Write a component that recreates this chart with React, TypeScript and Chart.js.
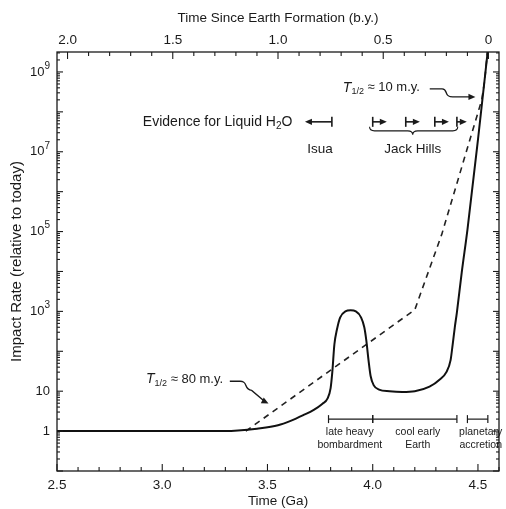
import React, { useEffect, useRef } from 'react';
import { Chart, registerables } from 'chart.js';

Chart.register(...registerables);

// ---- data ----
const solidT = [2.5, 3.3, 3.36, 3.45, 3.55, 3.61, 3.67, 3.72, 3.76, 3.785, 3.8, 3.808, 3.818, 3.83, 3.845, 3.87, 3.895, 3.92, 3.945, 3.96, 3.97, 3.98, 3.99, 4.005, 4.03, 4.08, 4.14, 4.2, 4.27, 4.32, 4.35, 4.37, 4.38, 4.39, 4.4, 4.423, 4.45, 4.5, 4.547];
const solidV = [1, 1, 1.03, 1.15, 1.4, 1.8, 2.5, 3.4, 4.8, 6.5, 12, 30, 150, 350, 700, 1000, 1060, 1000, 700, 400, 180, 60, 24, 14, 11, 10, 9.6, 10, 13, 20, 30, 60, 150, 400, 950, 9500, 1.1e5, 2e7, 3.5e9];

const dashT = [3.397, 4.2, 4.328, 4.518, 4.532, 4.545];
const dashV = [1, 1100, 8.5e4, 2e8, 6e8, 3.2e9];

const bottomTicks = [2.5, 3.0, 3.5, 4.0, 4.5];
const topTicks = [0, 0.5, 1.0, 1.5, 2.0];
const yTicks = [1, 10, 1e3, 1e5, 1e7, 1e9];
const yTickBase = ['1', '10', '10', '10', '10', '10'];
const yTickExp = ['', '', '3', '5', '7', '9'];

const EARTH_AGE = 4.55;

const isuaBar = 3.806;
const isuaTip = 3.678;
const jackHillsBars = [4.0, 4.157, 4.295, 4.4];
const jackHillsTips = [4.067, 4.224, 4.362, 4.447];

const periodNames = [['late heavy', 'bombardment'], ['cool early', 'Earth'], ['planetary', 'accretion']];
const periodStart = [3.79, 4.0, 4.45];
const periodEnd = [4.0, 4.4, 4.547];
const periodLabelT = [3.891, 4.214, 4.513];

const FONT = '"Liberation Sans", Arial, Helvetica, sans-serif';
const INK = '#1a1a1a';

const overlay = {
  id: 'overlay',
  afterDatasetsDraw(chart: any) {
    const { ctx, chartArea: a, scales } = chart;
    const x = scales.x, x2 = scales.x2, y = scales.y;
    const X = (t: number) => x.getPixelForValue(t);
    const Y = (lv: number) => y.getPixelForValue(Math.pow(10, lv));
    ctx.save();
    ctx.strokeStyle = INK;
    ctx.fillStyle = INK;
    ctx.lineWidth = 1.3;
    // frame
    ctx.strokeRect(a.left, a.top, a.right - a.left, a.bottom - a.top);
    const seg = (x1: number, y1: number, x2_: number, y2: number) => {
      ctx.beginPath(); ctx.moveTo(x1, y1); ctx.lineTo(x2_, y2); ctx.stroke();
    };
    // bottom ticks
    ctx.lineWidth = 1.1;
    for (let i = 0; i <= 21; i++) {
      const t = 2.5 + i * 0.1;
      const p = X(t);
      const L = i % 5 === 0 ? 7 : 4;
      seg(p, a.bottom, p, a.bottom - L);
    }
    // top ticks
    for (let i = 0; i <= 20; i++) {
      const s = i * 0.1;
      const p = x2.getPixelForValue(s);
      const L = i % 5 === 0 ? 7 : 4;
      seg(p, a.top, p, a.top + L);
    }
    // y ticks left and right
    for (let e = -1; e <= 9; e++) {
      for (let m = 1; m <= 9; m++) {
        const v = m * Math.pow(10, e);
        if (v > y.max || v < y.min) continue;
        const p = y.getPixelForValue(v);
        const L = m === 1 ? 6 : 3;
        seg(a.left, p, a.left + L, p);
        seg(a.right, p, a.right - L, p);
      }
    }
    // y tick labels with real superscripts
    ctx.textBaseline = 'middle';
    ctx.textAlign = 'right';
    yTicks.forEach((v, i) => {
      const p = y.getPixelForValue(v);
      let rx = a.left - 7;
      if (yTickExp[i]) {
        ctx.font = `10px ${FONT}`;
        ctx.fillText(yTickExp[i], rx, p - 6);
        rx -= ctx.measureText(yTickExp[i]).width;
      }
      ctx.font = `13px ${FONT}`;
      ctx.fillText(yTickBase[i], rx, p);
    });

    const arrowHead = (tx: number, ty: number, dx: number, dy: number) => {
      const len = Math.hypot(dx, dy);
      const ux = dx / len, uy = dy / len;
      const hl = 7, hw = 3.2;
      ctx.beginPath();
      ctx.moveTo(tx, ty);
      ctx.lineTo(tx - ux * hl - uy * hw, ty - uy * hl + ux * hw);
      ctx.lineTo(tx - ux * hl + uy * hw, ty - uy * hl - ux * hw);
      ctx.closePath();
      ctx.fill();
    };

    // Evidence text and arrows
    const evY = Y(7.75);
    ctx.textBaseline = 'middle';
    ctx.textAlign = 'left';
    ctx.font = `14px ${FONT}`;
    let cx = X(2.908);
    const t1 = 'Evidence for Liquid H';
    ctx.fillText(t1, cx, evY);
    cx += ctx.measureText(t1).width;
    ctx.font = `10px ${FONT}`;
    ctx.fillText('2', cx, evY + 4);
    cx += ctx.measureText('2').width;
    ctx.font = `14px ${FONT}`;
    ctx.fillText('O', cx, evY);

    ctx.lineWidth = 1.6;
    // Isua
    seg(X(isuaBar), evY - 5, X(isuaBar), evY + 5);
    seg(X(isuaBar), evY, X(isuaTip) + 5, evY);
    arrowHead(X(isuaTip), evY, -1, 0);
    // Jack Hills
    jackHillsBars.forEach((b, i) => {
      seg(X(b), evY - 5, X(b), evY + 5);
      seg(X(b), evY, X(jackHillsTips[i]) - 5, evY);
      arrowHead(X(jackHillsTips[i]), evY, 1, 0);
    });
    // brace
    ctx.lineWidth = 1.1;
    const bL = X(3.985), bR = X(4.404), bM = X(4.19), bT = evY + 5;
    ctx.beginPath();
    ctx.moveTo(bL, bT);
    ctx.quadraticCurveTo(bL, bT + 4, bL + 5, bT + 4);
    ctx.lineTo(bM - 5, bT + 4);
    ctx.quadraticCurveTo(bM, bT + 4, bM, bT + 8);
    ctx.quadraticCurveTo(bM, bT + 4, bM + 5, bT + 4);
    ctx.lineTo(bR - 5, bT + 4);
    ctx.quadraticCurveTo(bR, bT + 4, bR, bT);
    ctx.stroke();

    ctx.font = `13.5px ${FONT}`;
    ctx.textAlign = 'center';
    ctx.fillText('Isua', X(3.749), Y(7.05));
    ctx.fillText('Jack Hills', X(4.19), Y(7.05));

    // half-life labels
    const halfLife = (t: number, lv: number, rest: string) => {
      let px = X(t);
      const py = Y(lv);
      ctx.textAlign = 'left';
      ctx.font = `italic 14px ${FONT}`;
      ctx.fillText('T', px, py);
      px += ctx.measureText('T').width;
      ctx.font = `9px ${FONT}`;
      ctx.fillText('1/2', px, py + 4);
      px += ctx.measureText('1/2').width;
      ctx.font = `13px ${FONT}`;
      ctx.fillText(rest, px, py);
    };
    halfLife(3.858, 8.6, ' \u2248 10 m.y.');
    halfLife(2.923, 1.3, ' \u2248 80 m.y.');

    ctx.lineWidth = 1.4;
    // 10 m.y. arrow
    ctx.beginPath();
    ctx.moveTo(X(4.271), Y(8.575));
    ctx.lineTo(X(4.33), Y(8.575));
    ctx.bezierCurveTo(X(4.36), Y(8.575), X(4.335), Y(8.375), X(4.38), Y(8.375));
    ctx.lineTo(X(4.46), Y(8.375));
    ctx.stroke();
    arrowHead(X(4.488), Y(8.375), 1, 0);
    // 80 m.y. arrow
    ctx.beginPath();
    ctx.moveTo(X(3.321), Y(1.25));
    ctx.lineTo(X(3.37), Y(1.25));
    ctx.bezierCurveTo(X(3.41), Y(1.25), X(3.385), Y(1.04), X(3.425), Y(1.02));
    ctx.lineTo(X(3.49), Y(0.73));
    ctx.stroke();
    arrowHead(X(3.505), Y(0.69), X(3.505) - X(3.49), Y(0.69) - Y(0.73));

    // periods
    ctx.lineWidth = 1.2;
    const pY = Y(0.3);
    periodStart.forEach((s, i) => {
      const e = periodEnd[i];
      seg(X(s), pY, X(e), pY);
      seg(X(s), pY - 4, X(s), pY + 4);
      seg(X(e), pY - 4, X(e), pY + 4);
    });
    ctx.font = `10.5px ${FONT}`;
    ctx.textAlign = 'center';
    periodNames.forEach((nm, i) => {
      ctx.fillText(nm[0], X(periodLabelT[i]), Y(-0.03));
      ctx.fillText(nm[1], X(periodLabelT[i]), Y(-0.35));
    });
    ctx.restore();
  },
};

export default function App() {
  const ref = useRef<HTMLCanvasElement | null>(null);
  useEffect(() => {
    if (!ref.current) return;
    const chart = new Chart(ref.current, {
      type: 'line',
      data: {
        datasets: [
          {
            data: solidT.map((t, i) => ({ x: t, y: solidV[i] })),
            borderColor: '#111',
            borderWidth: 2,
            pointRadius: 0,
            cubicInterpolationMode: 'monotone',
            fill: false,
          },
          {
            data: dashT.map((t, i) => ({ x: t, y: dashV[i] })),
            borderColor: '#222',
            borderWidth: 1.6,
            borderDash: [6, 5],
            pointRadius: 0,
            tension: 0,
            fill: false,
          },
        ],
      },
      options: {
        animation: false,
        responsive: false,
        layout: { padding: { left: 0, right: 7, top: 0, bottom: 0 } },
        plugins: { legend: { display: false }, tooltip: { enabled: false } },
        scales: {
          x: {
            type: 'linear',
            position: 'bottom',
            min: 2.5,
            max: 4.6,
            grid: { display: false, drawTicks: false },
            border: { display: false },
            afterBuildTicks: (s: any) => { s.ticks = bottomTicks.map((v) => ({ value: v })); },
            ticks: {
              color: INK,
              padding: 6,
              maxRotation: 0,
              autoSkip: false,
              font: { family: FONT, size: 13.5 },
              callback: (v: any) => Number(v).toFixed(1),
            },
            title: { display: true, text: 'Time (Ga)', color: INK, font: { family: FONT, size: 13.5 }, padding: { top: 0, bottom: 0 } },
            afterFit: (s: any) => { s.height = 38; },
          },
          x2: {
            type: 'linear',
            position: 'top',
            reverse: true,
            min: EARTH_AGE - 4.6,
            max: EARTH_AGE - 2.5,
            grid: { display: false, drawTicks: false },
            border: { display: false },
            afterBuildTicks: (s: any) => { s.ticks = topTicks.map((v) => ({ value: v })); },
            ticks: {
              color: INK,
              padding: 4,
              maxRotation: 0,
              autoSkip: false,
              font: { family: FONT, size: 13.5 },
              callback: (v: any) => (Number(v) === 0 ? '0' : Number(v).toFixed(1)),
            },
            title: { display: true, text: 'Time Since Earth Formation (b.y.)', color: INK, font: { family: FONT, size: 13.5 }, padding: { top: 10, bottom: 0 } },
            afterFit: (s: any) => { s.height = 52; },
          },
          y: {
            type: 'logarithmic',
            position: 'left',
            min: 0.1,
            max: Math.pow(10, 9.5),
            grid: { display: false, drawTicks: false },
            border: { display: false },
            afterBuildTicks: (s: any) => { s.ticks = yTicks.map((v) => ({ value: v })); },
            ticks: { display: false },
            title: { display: true, text: 'Impact Rate (relative to today)', color: INK, font: { family: FONT, size: 15 }, padding: { top: 8, bottom: 0 } },
            afterFit: (s: any) => { s.width = 57; },
          },
        },
      } as any,
      plugins: [overlay],
    });
    return () => chart.destroy();
  }, []);
  return (
    <div style={{ position: 'absolute', left: 0, top: 0, width: 506, height: 509, background: '#fff' }}>
      <canvas ref={ref} width={506} height={509} style={{ display: 'block' }} />
    </div>
  );
}
